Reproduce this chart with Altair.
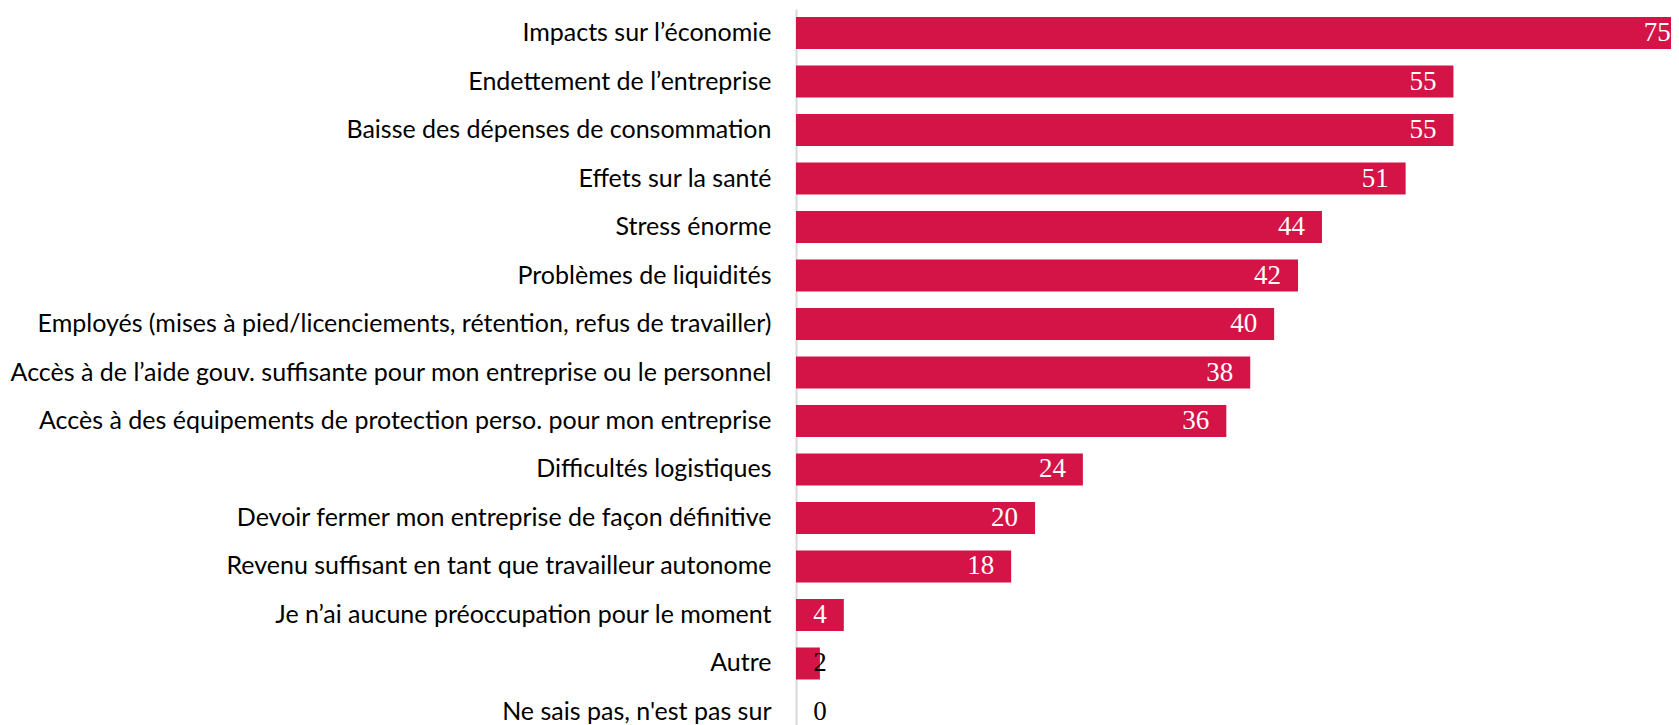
import altair as alt
import pandas as pd

categories = [
    "Impacts sur l’économie",
    "Endettement de l’entreprise",
    "Baisse des dépenses de consommation",
    "Effets sur la santé",
    "Stress énorme",
    "Problèmes de liquidités",
    "Employés (mises à pied/licenciements, rétention, refus de travailler)",
    "Accès à de l’aide gouv. suffisante pour mon entreprise ou le personnel",
    "Accès à des équipements de protection perso. pour mon entreprise",
    "Difficultés logistiques",
    "Devoir fermer mon entreprise de façon définitive",
    "Revenu suffisant en tant que travailleur autonome",
    "Je n’ai aucune préoccupation pour le moment",
    "Autre",
    "Ne sais pas, n'est pas sur",
]
values = [75, 55, 55, 51, 44, 42, 40, 38, 36, 24, 20, 18, 4, 2, 0]

df = pd.DataFrame({"cat": categories, "val": values})

xscale = alt.Scale(domain=[0, 73.2], nice=False, zero=True)
yscale = alt.Scale(range=[1, 728], paddingInner=0.34, paddingOuter=0.165)

y_axis = alt.Axis(
    title=None,
    domainColor="#D9D9D9",
    domainWidth=2,
    ticks=False,
    grid=False,
    labelFont="Lato",
    labelFontSize=25,
    labelColor="#000000",
    labelPadding=25,
    labelLimit=0,
)

bars = alt.Chart(df).mark_bar(color="#D41346", clip=True).encode(
    x=alt.X("val:Q", scale=xscale, axis=None),
    y=alt.Y("cat:N", sort=categories, scale=yscale, axis=y_axis),
)

text = (
    alt.Chart(df)
    .transform_calculate(
        lx="min(max(datum.val, 4), 74.6)",
        tc="datum.val >= 4 ? 'w' : 'b'",
    )
    .mark_text(align="right", dx=-17, dy=0, font="Liberation Serif", fontSize=27, baseline="middle")
    .encode(
        x=alt.X("lx:Q", scale=xscale, axis=None),
        y=alt.Y("cat:N", sort=categories, scale=yscale, axis=y_axis),
        text=alt.Text("val:Q"),
        color=alt.Color("tc:N", scale=alt.Scale(domain=["w", "b"], range=["#FFFFFF", "#000000"]), legend=None),
    )
)

chart = (
    alt.layer(bars, text)
    .properties(
        width=875,
        height=717,
        padding={"left": 788, "top": 0, "right": 0, "bottom": 0},
        autosize=alt.AutoSizeParams(type="none"),
    )
    .configure_view(stroke=None)
)

chart.save("out.html", embed_options={"renderer": "svg", "actions": False})
